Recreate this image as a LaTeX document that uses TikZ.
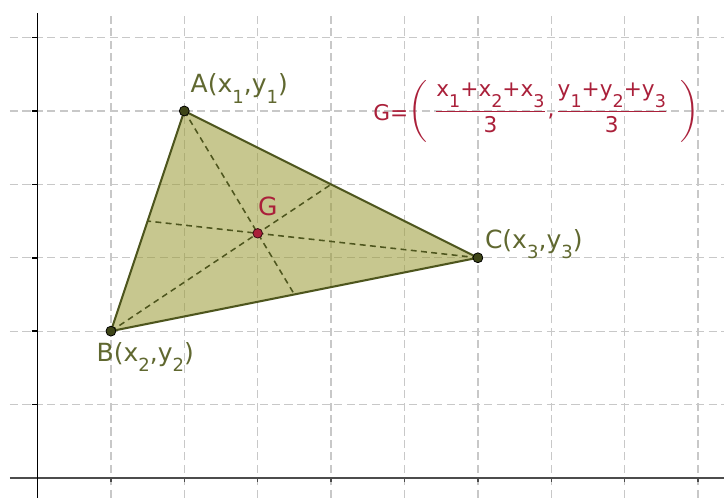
\documentclass[tikz,border=0pt]{standalone}
\usepackage{fontspec}
\setmainfont{DejaVu Sans}
\definecolor{olivefill}{RGB}{153,153,51}
\definecolor{oliveedge}{RGB}{78,86,30}
\definecolor{olivetext}{RGB}{96,104,48}
\definecolor{gridgray}{RGB}{200,200,200}
\definecolor{gred}{RGB}{170,32,58}
\newcommand{\lsub}[1]{\raisebox{-3.9pt}{\fontsize{7}{8}\selectfont #1}}
\newcommand{\fsub}[1]{\raisebox{-4.5pt}{\fontsize{6.8}{8}\selectfont #1}}
\tikzset{
    gridline/.style={gridgray, line width=0.5pt, dash pattern=on 0.11cm off 0.06cm},
    median/.style={oliveedge, line width=0.6pt, dash pattern=on 0.08cm off 0.06cm},
    vertexdot/.style={circle, fill=oliveedge!80!black, draw=black, line width=0.3pt, inner sep=0pt, minimum size=0.135cm},
    gdot/.style={circle, fill=gred, draw=black!70!gred, line width=0.3pt, inner sep=0pt, minimum size=0.13cm},
    ptlabel/.style={olivetext, anchor=base west, inner sep=0pt, font=\fontsize{9.7}{11}\selectfont}
}
\begin{document}
\begin{tikzpicture}
\useasboundingbox (-0.511,-0.272) rectangle (9.353,6.512);
% grid
\foreach \y in {1,...,6}{
    \draw[gridline] (-0.375,\y)--(9.353,\y);
}
\foreach \x in {1,...,9}{
    \draw[gridline] (\x,-0.272)--(\x,6.335);
}
% axes
\draw[black!70, line width=0.9pt] (-0.375,0)--(9.353,0);
\draw[black, line width=0.6pt] (0,-0.272)--(0,6.335);
\foreach \y in {1,...,6}{
    \draw[black, line width=0.6pt] (-0.08,\y)--(0,\y);
}
\foreach \x in {1,...,9}{
    \draw[black!70, line width=0.5pt] (\x,0)--(\x,-0.05);
}
% triangle
\coordinate (A) at (2,5);
\coordinate (B) at (1,2);
\coordinate (C) at (6,3);
\coordinate (G) at (3,10/3);
\coordinate (mBC) at (3.5,2.5);
\coordinate (mAC) at (4,4);
\coordinate (mAB) at (1.5,3.5);
\fill[olivefill, fill opacity=0.55] (A)--(B)--(C)--cycle;
\draw[median] (A)--(mBC);
\draw[median] (B)--(mAC);
\draw[median] (C)--(mAB);
\draw[oliveedge, line width=0.8pt, line join=round] (A)--(B)--(C)--cycle;
\node[vertexdot] (pA) at (A) {};
\node[vertexdot] (pB) at (B) {};
\node[vertexdot] (pC) at (C) {};
\node[gdot] (pG) at (G) {};
% labels
\node[ptlabel] (lA) at (2.08,5.245) {A(x\lsub{1},y\lsub{1})};
\node[ptlabel] (lB) at (0.80,1.585) {B(x\lsub{2},y\lsub{2})};
\node[ptlabel] (lC) at (6.09,3.13) {C(x\lsub{3},y\lsub{3})};
\node[ptlabel, gred] (lG) at (3.0,3.58) {G};
\node[gred, anchor=base west, inner sep=0pt, font=\fontsize{8.4}{10}\selectfont] (formula) at (4.57,4.87)
    {G=\raisebox{1.4pt}{$\displaystyle\left(\rule[-0.35cm]{0pt}{0.7cm}\hspace{0.08cm}\frac{\mbox{x\fsub{1}+x\fsub{2}+x\fsub{3}}}{\mbox{3}}\mbox{,}\frac{\mbox{y\fsub{1}+y\fsub{2}+y\fsub{3}}}{\mbox{3}}\hspace{0.16cm}\right)$}};
\end{tikzpicture}
\end{document}
